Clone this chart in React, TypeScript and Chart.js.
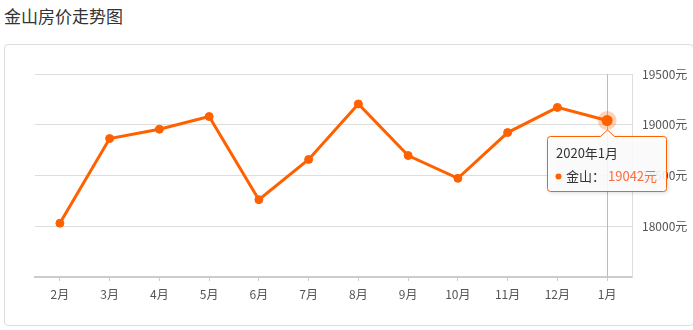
import React, { useEffect, useRef } from "react";
import { Chart, registerables } from "chart.js";

Chart.register(...registerables);

const TITLE = "金山房价走势图";
const SERIES_NAME = "金山";
const UNIT = "元";
const months = ["2月", "3月", "4月", "5月", "6月", "7月", "8月", "9月", "10月", "11月", "12月", "1月"];
const prices = [18030, 18864, 18956, 19081, 18262, 18658, 19205, 18697, 18472, 18923, 19171, 19042];
const yTickValues = [17500, 18000, 18500, 19000, 19500];
const hiddenTickValues = [17500];
const activeIndex = 11;
const activeTitle = "2020年1月";

const FONT = '"Noto Sans CJK SC", "Microsoft YaHei", sans-serif';
const LINE = "#ff6000";
const VALUE_COLOR = "#ff6a3a";

function roundRect(ctx: CanvasRenderingContext2D, x: number, y: number, w: number, h: number, r: number, caretX: number) {
  ctx.beginPath();
  ctx.moveTo(x + r, y);
  ctx.lineTo(caretX - 7, y);
  ctx.lineTo(caretX, y - 6.5);
  ctx.lineTo(caretX + 7, y);
  ctx.lineTo(x + w - r, y);
  ctx.quadraticCurveTo(x + w, y, x + w, y + r);
  ctx.lineTo(x + w, y + h - r);
  ctx.quadraticCurveTo(x + w, y + h, x + w - r, y + h);
  ctx.lineTo(x + r, y + h);
  ctx.quadraticCurveTo(x, y + h, x, y + h - r);
  ctx.lineTo(x, y + r);
  ctx.quadraticCurveTo(x, y, x + r, y);
  ctx.closePath();
}

const highlightPlugin = {
  id: "highlight",
  beforeDatasetsDraw(chart: any) {
    const meta = chart.getDatasetMeta(0);
    const pt = meta.data[activeIndex];
    if (!pt) return;
    const { top, bottom } = chart.chartArea;
    const ctx = chart.ctx;
    ctx.save();
    ctx.strokeStyle = "#bbbbbb";
    ctx.lineWidth = 1;
    const x = Math.round(pt.x) + 0.5;
    ctx.beginPath();
    ctx.moveTo(x, top);
    ctx.lineTo(x, bottom);
    ctx.stroke();
    ctx.restore();
  },
  afterDatasetsDraw(chart: any) {
    const meta = chart.getDatasetMeta(0);
    const pt = meta.data[activeIndex];
    if (!pt) return;
    const ctx = chart.ctx;
    ctx.save();
    ctx.fillStyle = "rgba(255,96,0,0.28)";
    ctx.beginPath();
    ctx.arc(pt.x, pt.y, 9.5, 0, Math.PI * 2);
    ctx.fill();
    ctx.fillStyle = LINE;
    ctx.beginPath();
    ctx.arc(pt.x, pt.y, 5.5, 0, Math.PI * 2);
    ctx.fill();
    ctx.restore();
  },
  afterDraw(chart: any) {
    const meta = chart.getDatasetMeta(0);
    const pt = meta.data[activeIndex];
    if (!pt) return;
    const ctx = chart.ctx;
    const bx = Math.round(pt.x) - 59.5;
    const by = Math.round(pt.y) + 16.5;
    const bw = 119;
    const bh = 55;
    ctx.save();
    ctx.shadowColor = "rgba(0,0,0,0.18)";
    ctx.shadowBlur = 4;
    ctx.shadowOffsetX = 1;
    ctx.shadowOffsetY = 1;
    roundRect(ctx, bx, by, bw, bh, 3, Math.round(pt.x) + 0.5);
    ctx.fillStyle = "rgba(255,255,255,0.88)";
    ctx.fill();
    ctx.shadowColor = "transparent";
    ctx.strokeStyle = LINE;
    ctx.lineWidth = 1;
    ctx.stroke();

    ctx.textBaseline = "middle";
    ctx.textAlign = "left";
    ctx.font = `13px ${FONT}`;
    ctx.fillStyle = "#333333";
    ctx.fillText(activeTitle, bx + 8.5, by + 16.5);

    const rowY = by + 40;
    ctx.fillStyle = LINE;
    ctx.beginPath();
    ctx.arc(bx + 11, rowY, 3, 0, Math.PI * 2);
    ctx.fill();
    ctx.fillStyle = "#333333";
    const label = SERIES_NAME + "：";
    ctx.fillText(label, bx + 18.5, rowY);
    const lw = ctx.measureText(label).width;
    ctx.fillStyle = VALUE_COLOR;
    ctx.fillText(String(prices[activeIndex]) + UNIT, bx + 18.5 + lw + 3, rowY);
    ctx.restore();
  },
};

export default function App() {
  const canvasRef = useRef<HTMLCanvasElement | null>(null);

  useEffect(() => {
    if (!canvasRef.current) return;
    Chart.defaults.font.family = FONT;
    const chart = new Chart(canvasRef.current, {
      type: "line",
      data: {
        labels: months,
        datasets: [
          {
            label: SERIES_NAME,
            data: prices,
            borderColor: LINE,
            backgroundColor: LINE,
            borderWidth: 3,
            pointRadius: 4,
            pointBorderWidth: 1,
            pointBackgroundColor: LINE,
            pointBorderColor: LINE,
            tension: 0,
            fill: false,
          },
        ],
      },
      options: {
        responsive: false,
        animation: false,
        devicePixelRatio: 1,
        events: [],
        layout: { padding: { left: 35, top: 74, right: 0, bottom: 0 } },
        plugins: {
          legend: { display: false },
          tooltip: { enabled: false },
          title: { display: false },
        },
        scales: {
          x: {
            type: "category",
            offset: true,
            afterFit: (scale: any) => {
              scale.height = 53;
            },
            grid: {
              drawOnChartArea: false,
              drawTicks: true,
              tickLength: 4,
              color: "#cccccc",
            },
            border: { display: true, color: "#cccccc", width: 2 },
            ticks: {
              padding: 6,
              color: "#555555",
              font: { size: 12, family: FONT },
              maxRotation: 0,
              autoSkip: false,
            },
          },
          y: {
            position: "right",
            min: 17500,
            max: 19500,
            afterFit: (scale: any) => {
              scale.width = 61;
            },
            afterBuildTicks: (scale: any) => {
              scale.ticks = yTickValues.map((v) => ({ value: v }));
            },
            grid: {
              drawTicks: false,
              color: "#dddddd",
              lineWidth: 1,
            },
            border: { display: true, color: "#dddddd", width: 1 },
            ticks: {
              padding: 10,
              color: "#555555",
              font: { size: 12, family: FONT },
              callback: (v: any) => (hiddenTickValues.includes(Number(v)) ? "" : `${v}${UNIT}`),
            },
          },
        },
      },
      plugins: [highlightPlugin],
    } as any);
    return () => chart.destroy();
  }, []);

  return (
    <div
      style={{
        position: "fixed",
        left: 0,
        top: 0,
        width: 693,
        height: 330,
        background: "#ffffff",
        fontFamily: FONT,
        overflow: "hidden",
      }}
    >
      <div
        style={{
          position: "absolute",
          left: 4,
          top: 7,
          height: 18,
          lineHeight: "18px",
          fontSize: 17,
          color: "#333333",
          whiteSpace: "nowrap",
        }}
      >
        {TITLE}
      </div>
      <div
        style={{
          position: "absolute",
          left: 4,
          top: 44,
          width: 690,
          height: 282,
          boxSizing: "border-box",
          border: "1px solid #dddddd",
          borderRadius: 4,
        }}
      />
      <canvas
        ref={canvasRef}
        width={693}
        height={330}
        style={{ position: "absolute", left: 0, top: 0, width: 693, height: 330 }}
      />
    </div>
  );
}
